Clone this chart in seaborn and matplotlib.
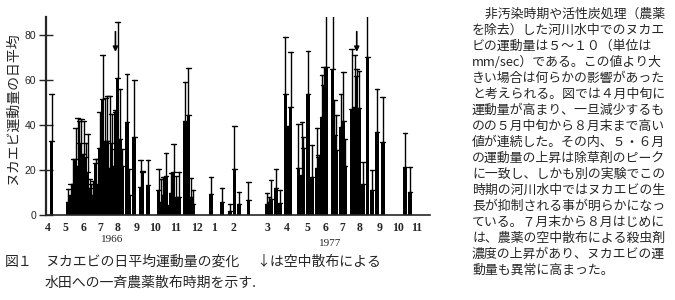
import numpy as np
import pandas as pd
import matplotlib
matplotlib.use("Agg")
import matplotlib.pyplot as plt
import seaborn as sns

# ---- data (x in month index: 0 = Apr 1966 ... 10 = Feb 1967, ~12 = Mar 1977 ...) ----
pos = [0.21, 1.10, 1.24, 1.37, 1.51, 1.62, 1.72, 1.83, 1.94, 2.05, 2.16, 2.27, 2.37,
       2.48, 2.59, 2.70, 2.81, 2.97, 3.13, 3.24, 3.35, 3.46, 3.57, 3.67, 3.79, 3.92,
       4.03, 4.30, 4.41, 4.69, 5.03, 5.14, 5.44, 6.01, 6.14, 6.25, 6.41, 6.57, 6.68,
       6.82, 6.95, 7.12, 7.44, 7.63, 7.77, 7.88, 8.85, 9.45, 9.88, 10.12, 10.37, 10.88,
       11.89, 11.99, 12.10, 12.37, 12.59, 12.88, 13.00, 13.16, 13.59, 13.78, 13.86,
       14.11, 14.33, 14.60, 14.68, 14.87, 14.95, 15.11, 15.44, 15.54, 15.65, 15.90,
       16.03, 16.11, 16.47, 16.63, 16.75, 16.87, 17.09, 17.33, 17.58, 17.85, 18.16,
       19.37, 19.64]
daily_mean = [32.7, 5.8, 9.0, 14.0, 25.0, 22.0, 32.0, 20.0, 27.0, 26.0, 19.0, 12.0, 9.0,
              6.0, 23.0, 14.0, 30.0, 51.7, 33.0, 33.0, 21.0, 32.0, 22.0, 45.8, 61.0, 34.0,
              22.0, 41.3, 9.0, 34.7, 12.4, 19.0, 13.5, 11.0, 6.0, 9.0, 17.5, 4.0, 10.0,
              19.0, 8.0, 8.0, 42.0, 44.5, 8.0, 5.0, 9.3, 6.0, 2.0, 20.5, 5.0, 6.5,
              4.9, 6.0, 6.9, 11.8, 5.2, 54.0, 39.0, 48.0, 20.7, 17.8, 30.0,
              54.0, 16.7, 21.0, 26.0, 43.7, 58.0, 66.0, 65.0, 35.6, 29.0, 39.0,
              42.0, 22.0, 47.0, 48.0, 62.0, 47.4, 14.0, 70.4, 11.0, 37.0, 32.6,
              21.5, 10.4]
upper = [54.0, 11.7, 14.0, 25.0, 38.5, 43.0, 42.0, 42.5, 42.0, 32.0, 36.0, 16.0, 14.0,
         15.0, 25.0, 25.0, 46.0, 71.0, 52.0, 53.0, 53.0, 45.0, 29.5, 46.5, 86.0, 56.0,
         29.5, 62.8, 20.6, 59.8, 24.3, 19.5, 24.3, 20.5, 16.0, 17.0, 27.5, 4.5, 18.5,
         31.5, 17.5, 19.0, 59.0, 65.5, 16.5, 11.0, 16.7, 11.8, 5.0, 39.5, 10.3, 14.5,
         10.0, 8.0, 15.6, 20.4, 11.1, 79.2, 39.5, 72.6, 40.4, 41.2, 34.5,
         73.0, 31.1, 38.5, 26.5, 62.2, 66.0, 92.0, 92.0, 51.0, 44.4, 54.0,
         63.4, 34.0, 73.6, 71.0, 65.0, 64.0, 23.7, 90.0, 20.0, 55.8, 52.6,
         36.3, 21.2]

month_pos = [0, 0.98, 1.93, 2.87, 3.81, 4.79, 5.82, 6.94, 8.08, 9.0, 10.06,
             11.92, 12.97, 14.07, 15.08, 15.97, 16.93, 18.01, 19.0, 20.0]
month_labels = ["4", "5", "6", "7", "8", "9", "10", "11", "12", "1", "2",
                "3", "4", "5", "6", "7", "8", "9", "10", "11"]
year_labels = ["1966", "1977"]
spray_pos = [3.67, 16.75]
y_ticks = [0, 20, 40, 60, 80]

ylabel = "ヌカエビ運動量の日平均"
caption_fig = "図１"
caption_1a = "ヌカエビの日平均運動量の変化"
caption_1b = "↓は空中散布による"
caption_2 = "水田への一斉農薬散布時期を示す."
paragraph = [
    "　非汚染時期や活性炭処理（農薬",
    "を除去）した河川水中でのヌカエ",
    "ビの運動量は５～１０（単位は",
    "mm/sec）である。この値より大",
    "きい場合は何らかの影響があった",
    "と考えられる。図では４月中旬に",
    "運動量が高まり、一旦減少するも",
    "のの５月中旬から８月末まで高い",
    "値が連続した。その内、５・６月",
    "の運動量の上昇は除草剤のピーク",
    "に一致し、しかも別の実験でこの",
    "時期の河川水中ではヌカエビの生",
    "長が抑制される事が明らかになっ",
    "ている。７月末から８月はじめに",
    "は、農薬の空中散布による殺虫剤",
    "濃度の上昇があり、ヌカエビの運",
    "動量も異常に高まった。",
]

# ---- figure ----
sns.set_theme(style="ticks")
plt.rcParams["font.family"] = ["Noto Sans CJK JP", "DejaVu Sans"]
cjk = ["Noto Sans CJK JP", "DejaVu Sans"]

df = pd.DataFrame({"x": pos + pos, "v": daily_mean + upper})

fig = plt.figure(figsize=(6.75, 3.0), dpi=100)
ax = fig.add_axes([0.0677, 0.2833, 0.5693, 0.66])

native_w = np.min(np.diff(np.unique(pos)))
bar_w = 0.19
cap_w = 0.26
sns.barplot(data=df, x="x", y="v", native_scale=True, orient="x",
            estimator="min", errorbar=lambda s: (s.min(), s.max()),
            width=bar_w / native_w, capsize=cap_w / native_w,
            color="black", saturation=1, linewidth=0,
            err_kws={"color": "black", "linewidth": 1.0}, ax=ax)

for sx in spray_pos:
    ax.annotate("", xy=(sx, 72.5), xytext=(sx, 81.5),
                arrowprops=dict(arrowstyle="-|>", color="black", lw=1.2,
                                mutation_scale=7, shrinkA=0, shrinkB=0))

ax.set_xlim(-0.11, 20.72)
ax.set_ylim(0, 88)
ax.set_xticks(month_pos)
ax.set_xticklabels(month_labels, family="Liberation Serif", fontsize=8.5,
                   fontweight="bold")
ax.set_yticks(y_ticks)
ax.set_yticklabels([str(t) for t in y_ticks], family="Liberation Sans", fontsize=7.5)
ax.tick_params(axis="x", length=0, pad=5)
ax.tick_params(axis="y", direction="inout", length=10, width=1.0, pad=2)
ax.set_xlabel("")
ax.set_ylabel("")
for s in ["top", "right"]:
    ax.spines[s].set_visible(False)
ax.spines["left"].set_linewidth(1.6)
ax.spines["bottom"].set_linewidth(1.2)
ax.set_facecolor("white")

W, H = 675.0, 300.0
def fx(px):
    return px / W
def fy(py):
    return 1 - py / H

fig.text(fx(13), fy(109), ylabel, rotation=90, family=cjk, fontsize=10,
         ha="center", va="center")
fig.text(fx(112), fy(239), year_labels[0], family="Liberation Serif", fontsize=8,
         ha="center", va="center")
fig.text(fx(330), fy(243), year_labels[1], family="Liberation Serif", fontsize=8,
         ha="center", va="center")

fig.text(fx(5), fy(262), caption_fig, family=cjk, fontsize=10, ha="left", va="center")
fig.text(fx(45), fy(262), caption_1a, family=cjk, fontsize=10, ha="left", va="center")
fig.text(fx(256), fy(262), caption_1b, family=cjk, fontsize=10, ha="left", va="center")
fig.text(fx(45), fy(283), caption_2, family=cjk, fontsize=10, ha="left", va="center")

for i, line in enumerate(paragraph):
    fig.text(fx(472), fy(14 + 16 * i), line, family=cjk, fontsize=9.3,
             ha="left", va="center")

fig.savefig("out.png", dpi=100, facecolor="white")
